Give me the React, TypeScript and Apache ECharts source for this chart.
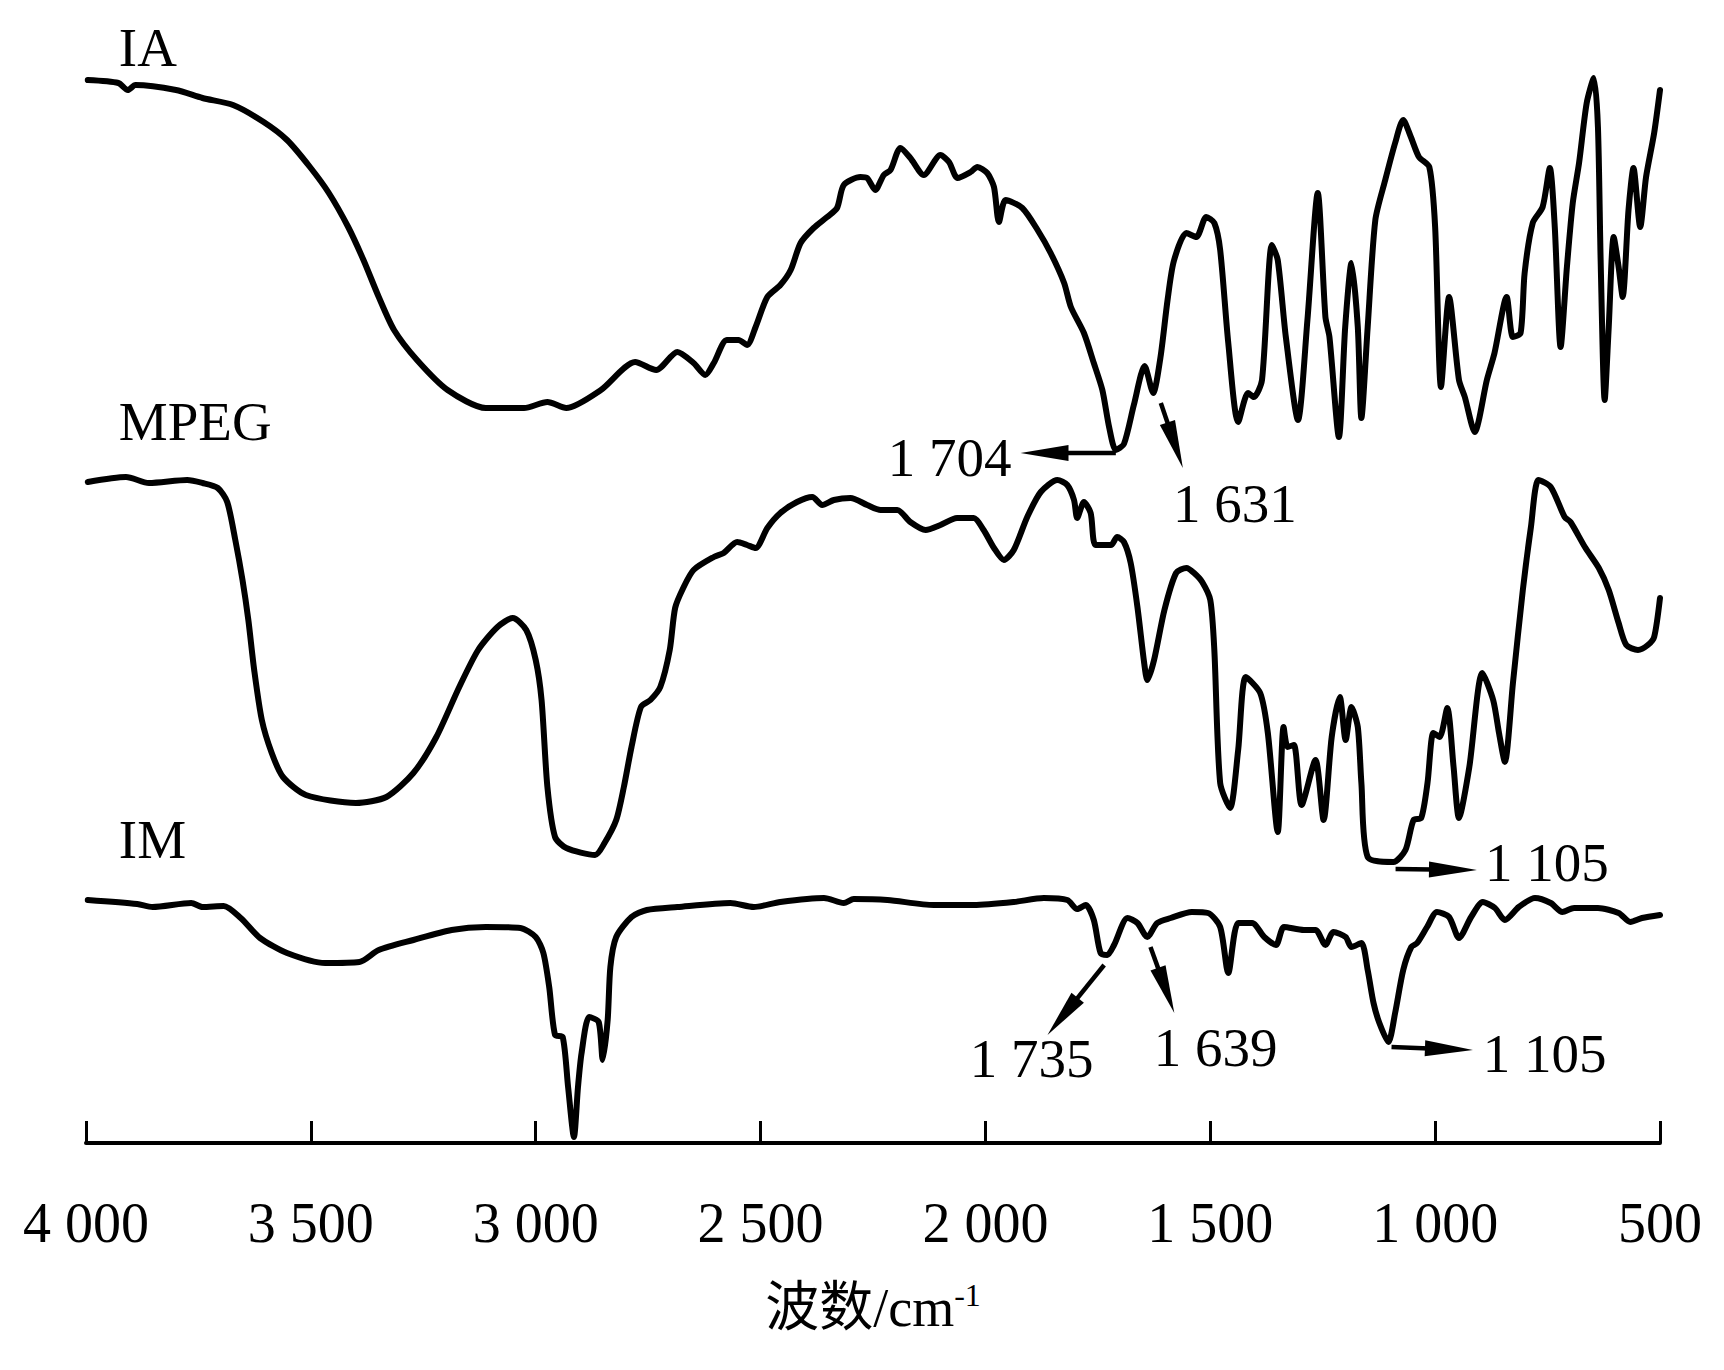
import React, { useEffect, useRef } from "react";
import * as echarts from "echarts";

const FONT = "'Liberation Serif', 'Times New Roman', 'Noto Sans CJK SC', serif";

// wavenumbers (cm-1) and relative transmittance (a.u.)
const IA_WN = [3996,3928,3907,3890,3800,3741,3673,3605,3553,3502,3460,3417,3383,3349,3315,3264,3196,3111,3026,2974,2932,2855,2779,2732,2685,2649,2623,2604,2575,2549,2530,2511,2485,2456,2433,2411,2382,2352,2330,2315,2278,2263,2245,2226,2211,2189,2167,2137,2100,2081,2062,2033,2018,1996,1981,1970,1955,1918,1884,1855,1825,1810,1781,1759,1740,1725,1710,1692,1670,1646,1627,1611,1595,1581,1553,1531,1509,1491,1478,1460,1438,1416,1403,1385,1363,1350,1332,1305,1284,1261,1244,1235,1214,1200,1186,1172,1164,1150,1133,1111,1089,1071,1054,1036,1013,1000,987,969,947,934,912,885,868,841,827,810,801,783,761,745,734,721,707,694,680,663,647,638,632,623,614,603,592,583,570,559,544,531,513,500];
const IA_T = [1063,1060,1053,1058,1053,1045,1038,1021,1003,976,950,916,883,846,813,783,753,735,735,741,735,753,781,773,791,780,768,780,803,803,798,816,846,858,873,900,915,926,935,958,966,965,953,968,973,995,985,968,988,981,965,971,976,970,956,921,943,935,913,890,860,836,810,780,753,716,693,699,738,777,750,785,843,882,910,906,926,920,893,800,721,750,746,763,898,883,806,723,823,950,826,806,706,816,880,816,725,816,923,963,1000,1023,1006,986,976,916,756,846,763,746,711,763,790,846,806,810,870,920,936,975,916,796,876,940,980,1040,1065,1016,883,743,816,906,876,846,933,975,916,966,1010,1053];

const MPEG_WN = [3996,3911,3860,3775,3741,3707,3686,3668,3652,3639,3626,3609,3587,3562,3511,3400,3332,3272,3221,3170,3128,3085,3051,3021,3000,2987,2974,2957,2932,2868,2847,2821,2804,2787,2766,2745,2723,2702,2690,2672,2649,2604,2582,2552,2530,2511,2485,2456,2419,2385,2363,2337,2300,2263,2233,2196,2167,2133,2100,2063,2026,2004,1981,1959,1937,1907,1877,1840,1818,1803,1796,1781,1766,1755,1721,1707,1692,1677,1662,1647,1640,1625,1602,1576,1553,1536,1518,1500,1491,1478,1456,1438,1421,1389,1372,1350,1337,1328,1314,1297,1266,1248,1230,1212,1199,1186,1172,1164,1150,1093,1066,1048,1031,1017,1004,990,973,959,947,924,895,871,858,845,827,805,787,770,743,712,699,667,636,614,592,575,549,527,513,500];
const MPEG_T = [661,666,660,663,660,655,641,603,563,523,473,423,390,366,348,340,346,370,406,456,493,516,525,513,483,443,356,306,295,288,300,323,356,396,436,443,456,493,535,555,573,586,590,601,598,595,615,630,641,646,638,643,645,638,633,633,621,613,618,625,625,613,595,583,593,626,651,663,658,643,625,641,630,598,598,606,601,580,536,480,463,483,533,570,575,570,561,543,493,360,335,393,466,450,410,311,416,396,398,338,383,323,406,446,403,436,416,360,286,281,293,323,325,360,410,406,435,376,325,376,470,443,410,381,460,553,616,663,656,626,621,596,575,553,520,498,493,498,506,545];

const IM_WN = [3996,3886,3852,3766,3741,3694,3656,3613,3553,3468,3392,3349,3272,3187,3111,3034,3000,2983,2970,2957,2940,2928,2915,2906,2898,2881,2860,2851,2840,2834,2821,2787,2753,2685,2567,2515,2456,2359,2315,2293,2218,2115,2026,1937,1870,1818,1796,1777,1759,1744,1729,1714,1684,1662,1640,1618,1588,1541,1505,1478,1460,1438,1407,1380,1354,1336,1292,1266,1244,1226,1199,1186,1164,1150,1137,1124,1104,1089,1071,1053,1040,1018,996,969,947,920,894,867,845,814,778,743,717,691,638,592,566,540,500];
const IM_T = [243,239,236,240,236,237,225,205,190,180,181,193,203,213,216,215,206,190,156,108,106,56,6,56,90,126,121,83,123,176,206,226,233,236,240,236,241,245,240,244,243,238,238,241,245,243,234,238,223,190,188,198,225,220,206,220,225,231,230,216,170,220,220,206,198,216,213,213,198,211,206,196,200,173,140,120,101,130,173,196,200,216,231,226,205,226,241,235,223,236,245,240,231,235,235,230,221,225,228];

const X_TICKS = [4000, 3500, 3000, 2500, 2000, 1500, 1000, 500];
const X_TICK_LABELS = ["4 000", "3 500", "3 000", "2 500", "2 000", "1 500", "1 000", "500"];

const CURVE_NAMES = ["IA", "MPEG", "IM"];
const CURVE_NAME_AT = [[3927, 1096], [3927, 722], [3927, 304]];

const PEAK_LABELS = ["1 704", "1 631", "1 105", "1 735", "1 639", "1 105"];
const ARROW_FROM = [[1710, 690], [1610, 740], [1088, 274], [1736, 178], [1633, 196], [1097, 96]];
const ARROW_TO = [[1922, 690], [1561, 675], [907, 273], [1862, 108], [1580, 130], [916, 93]];
const PEAK_LABEL_AT = [[1942, 686], [1583, 640], [889, 281], [1897, 85], [1488, 96], [894, 90]];
const PEAK_LABEL_ALIGN = ["right", "left", "left", "center", "center", "left"];

const zip = (a: number[], b: number[]) => a.map((x, i) => [x, b[i]]);

export default function App() {
  const ref = useRef<HTMLDivElement>(null);
  useEffect(() => {
    document.body.style.margin = "0";
    const chart = echarts.init(ref.current!, null, { renderer: "svg" });
    const lineSeries = (name: string, wn: number[], t: number[]) => ({
      name,
      type: "line",
      data: zip(wn, t),
      symbol: "none",
      showSymbol: false,
      smooth: 0.25,
      lineStyle: { color: "#000", width: 6, join: "round", cap: "round" },
    });
    chart.setOption({
      animation: false,
      backgroundColor: "#fff",
      grid: { left: 86, right: 64, top: 0, bottom: 227 },
      xAxis: {
        type: "value",
        inverse: true,
        min: 500,
        max: 4000,
        interval: 500,
        axisLine: { show: true, onZero: false, lineStyle: { color: "#000", width: 4 } },
        axisTick: { show: true, inside: true, length: 22, lineStyle: { color: "#000", width: 3 } },
        splitLine: { show: false },
        axisLabel: {
          color: "#000",
          fontFamily: FONT,
          fontSize: 56,
          margin: 80,
          verticalAlign: "middle",
          formatter: (v: number) => X_TICK_LABELS[X_TICKS.indexOf(v)] ?? String(v),
        },
        name: "{a|波数/cm}{s|-1}",
        nameLocation: "middle",
        nameGap: 165,
        nameTextStyle: {
          verticalAlign: "middle",
          rich: {
            a: { fontFamily: FONT, fontSize: 54, color: "#000" },
            s: { fontFamily: FONT, fontSize: 32, color: "#000", padding: [0, 0, 26, 0] },
          },
        },
      },
      yAxis: { type: "value", show: false, min: 0, max: 1143 },
      series: [
        lineSeries("IA", IA_WN, IA_T),
        lineSeries("MPEG", MPEG_WN, MPEG_T),
        lineSeries("IM", IM_WN, IM_T),
      ],
    });

    const toPx = (p: number[]) => chart.convertToPixel({ xAxisIndex: 0, yAxisIndex: 0 }, p) as number[];
    const graphics: any[] = [];
    CURVE_NAMES.forEach((n, i) => {
      const [x, y] = toPx(CURVE_NAME_AT[i]);
      graphics.push({
        type: "text", x, y, silent: true,
        style: { text: n, fill: "#000", font: `55px ${FONT}`, align: "left", verticalAlign: "middle" },
      });
    });
    PEAK_LABELS.forEach((lab, i) => {
      const [x0, y0] = toPx(ARROW_FROM[i]);
      const [x1, y1] = toPx(ARROW_TO[i]);
      const dx = x1 - x0, dy = y1 - y0;
      const len = Math.hypot(dx, dy);
      const ux = dx / len, uy = dy / len;
      const nx = -uy, ny = ux;
      const L = 48, W = 8;
      const bx = x1 - ux * L, by = y1 - uy * L;
      graphics.push({
        type: "line", silent: true,
        shape: { x1: x0, y1: y0, x2: bx + ux * 4, y2: by + uy * 4 },
        style: { stroke: "#000", lineWidth: 4.5 },
      });
      graphics.push({
        type: "polygon", silent: true,
        shape: { points: [[x1, y1], [bx + nx * W, by + ny * W], [bx - nx * W, by - ny * W]] },
        style: { fill: "#000" },
      });
      const [tx, ty] = toPx(PEAK_LABEL_AT[i]);
      graphics.push({
        type: "text", x: tx, y: ty, silent: true,
        style: { text: lab, fill: "#000", font: `55px ${FONT}`, align: PEAK_LABEL_ALIGN[i], verticalAlign: "middle" },
      });
    });
    chart.setOption({ graphic: graphics });
    return () => chart.dispose();
  }, []);
  return <div ref={ref} style={{ width: 1724, height: 1370 }} />;
}
